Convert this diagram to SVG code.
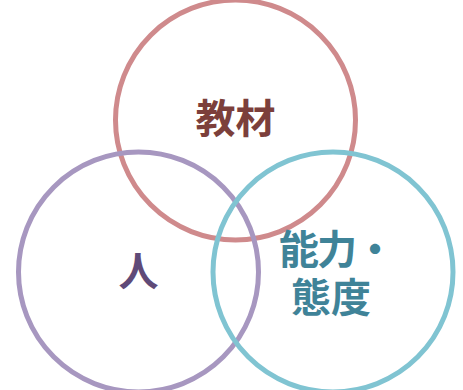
<svg xmlns="http://www.w3.org/2000/svg" width="463" height="390" viewBox="0 0 463 390">
<style>
.ring{fill:none;stroke-width:5}
.lbl{font-family:"Noto Sans CJK JP","Noto Sans CJK SC",sans-serif;font-weight:bold;font-size:40px}
</style>
<rect width="463" height="390" fill="#ffffff"/>
<g id="node-kyozai">
<circle class="ring" cx="235.5" cy="120" r="120" stroke="#cf8a8c"/>
<text class="lbl" x="235.5" y="133" text-anchor="middle" fill="#7c3f3b" font-size="41">教材</text>
</g>
<g id="node-hito">
<circle class="ring" cx="138.5" cy="272" r="120" stroke="#a797c0"/>
<text class="lbl" x="138.5" y="286" text-anchor="middle" fill="#5f4a78">人</text>
</g>
<g id="node-noryoku">
<circle class="ring" cx="333" cy="272" r="120" stroke="#80c4d2"/>
<text class="lbl" x="279" y="264" fill="#3f8398" letter-spacing="-2">能力・</text>
<text class="lbl" x="291" y="312" fill="#3f8398">態度</text>
</g>
<g id="connectors"></g>
</svg>
